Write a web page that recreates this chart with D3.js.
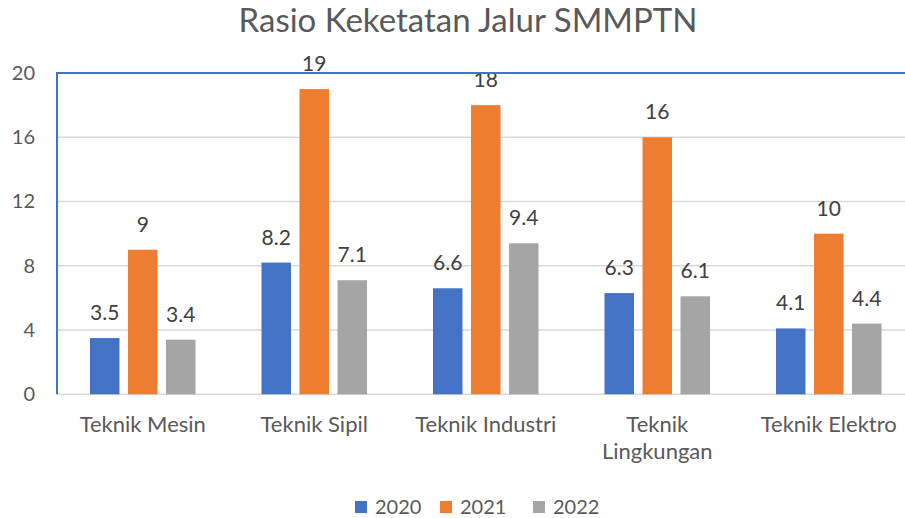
<!DOCTYPE html>
<html>
<head>
<meta charset="utf-8">
<title>Rasio Keketatan Jalur SMMPTN</title>
<script src="https://d3js.org/d3.v7.min.js"></script>
<style>
  body { margin: 0; background: #fff; }
  svg text { font-family: Lato, "Open Sans", sans-serif; }
</style>
</head>
<body>
<div id="chart"></div>
<script>
// data
var categories = ["Teknik Mesin", "Teknik Sipil", "Teknik Industri", "Teknik Lingkungan", "Teknik Elektro"];
var years = ["2020", "2021", "2022"];
var values2020 = [3.5, 8.2, 6.6, 6.3, 4.1];
var values2021 = [9, 19, 18, 16, 10];
var values2022 = [3.4, 7.1, 9.4, 6.1, 4.4];
var yTicks = [0, 4, 8, 12, 16, 20];
var colors = ["#4472C4", "#ED7D31", "#A5A5A5"];

var series = [values2020, values2021, values2022];

var W = 905, H = 518;
var plotLeft = 57, plotTop = 73, plotBottom = 394.3, plotRight = 914.5;

var svg = d3.select("#chart").append("svg")
    .attr("width", W)
    .attr("height", H);

// scales
var y = d3.scaleLinear().domain([0, 20]).range([plotBottom, plotTop]);
var x0 = d3.scaleBand().domain(categories).range([plotLeft, plotRight])
    .paddingInner(0.335).paddingOuter(0.1675);
var x1 = d3.scaleBand().domain(years).range([0, x0.bandwidth()])
    .paddingInner(0.224).paddingOuter(0.112);

// gridlines
svg.append("g")
    .selectAll("line")
    .data(yTicks)
    .enter().append("line")
    .attr("x1", plotLeft).attr("x2", plotRight)
    .attr("y1", function(d) { return y(d); })
    .attr("y2", function(d) { return y(d); })
    .attr("stroke", "#D9D9D9")
    .attr("stroke-width", 1.5);

// y axis labels
var yAxis = svg.append("g")
    .attr("transform", "translate(" + plotLeft + ",0)")
    .call(d3.axisLeft(y).tickValues(yTicks).tickSize(0).tickPadding(22));
yAxis.select(".domain").remove();
yAxis.selectAll("text")
    .attr("fill", "#595959")
    .style("font-size", "20px")
    .style("font-family", "Lato, sans-serif");

// bars
var rows = categories.map(function(c, i) {
    return { cat: c, vals: years.map(function(yr, j) { return { year: yr, v: series[j][i], idx: j }; }) };
});

var groups = svg.append("g").selectAll("g")
    .data(rows)
    .enter().append("g")
    .attr("transform", function(d) { return "translate(" + x0(d.cat) + ",0)"; });

groups.selectAll("rect")
    .data(function(d) { return d.vals; })
    .enter().append("rect")
    .attr("x", function(d) { return x1(d.year); })
    .attr("width", x1.bandwidth())
    .attr("y", function(d) { return y(d.v); })
    .attr("height", function(d) { return plotBottom - y(d.v); })
    .attr("fill", function(d) { return colors[d.idx]; });

groups.selectAll("text.val")
    .data(function(d) { return d.vals; })
    .enter().append("text")
    .attr("class", "val")
    .attr("x", function(d) { return x1(d.year) + x1.bandwidth() / 2; })
    .attr("y", function(d) { return y(d.v) - 18; })
    .attr("text-anchor", "middle")
    .attr("fill", "#404040")
    .style("font-size", "21px")
    .text(function(d) { return d.v; });

// plot border (top + left in blue)
svg.append("line")
    .attr("x1", plotLeft).attr("x2", plotRight)
    .attr("y1", y(20)).attr("y2", y(20))
    .attr("stroke", "#4472C4").attr("stroke-width", 2);
svg.append("line")
    .attr("x1", plotLeft).attr("x2", plotLeft)
    .attr("y1", y(20) - 1).attr("y2", plotBottom)
    .attr("stroke", "#4472C4").attr("stroke-width", 2);

// category labels (wrap "Teknik Lingkungan")
svg.append("g").selectAll("text")
    .data(categories)
    .enter().append("text")
    .attr("text-anchor", "middle")
    .attr("fill", "#595959")
    .style("font-size", "22px")
    .attr("x", function(d) { return x0(d) + x0.bandwidth() / 2; })
    .attr("y", 432)
    .each(function(d) {
        var t = d3.select(this);
        var lines = d === "Teknik Lingkungan" ? ["Teknik", "Lingkungan"] : [d];
        lines.forEach(function(l, i) {
            t.append("tspan")
                .attr("x", x0(d) + x0.bandwidth() / 2)
                .attr("dy", i === 0 ? 0 : 27)
                .text(l);
        });
    });

// title
svg.append("text")
    .attr("x", 468).attr("y", 32)
    .attr("text-anchor", "middle")
    .attr("fill", "#595959")
    .style("font-size", "33px")
    .text("Rasio Keketatan Jalur SMMPTN");

// legend
var legendX = [355, 440, 533];
var legend = svg.append("g").selectAll("g")
    .data(years)
    .enter().append("g")
    .attr("transform", function(d, i) { return "translate(" + legendX[i] + ",501)"; });
legend.append("rect")
    .attr("width", 12).attr("height", 12)
    .attr("fill", function(d, i) { return colors[i]; });
legend.append("text")
    .attr("x", 20).attr("y", 13)
    .attr("fill", "#595959")
    .style("font-size", "20px")
    .text(function(d) { return d; });
</script>
</body>
</html>
